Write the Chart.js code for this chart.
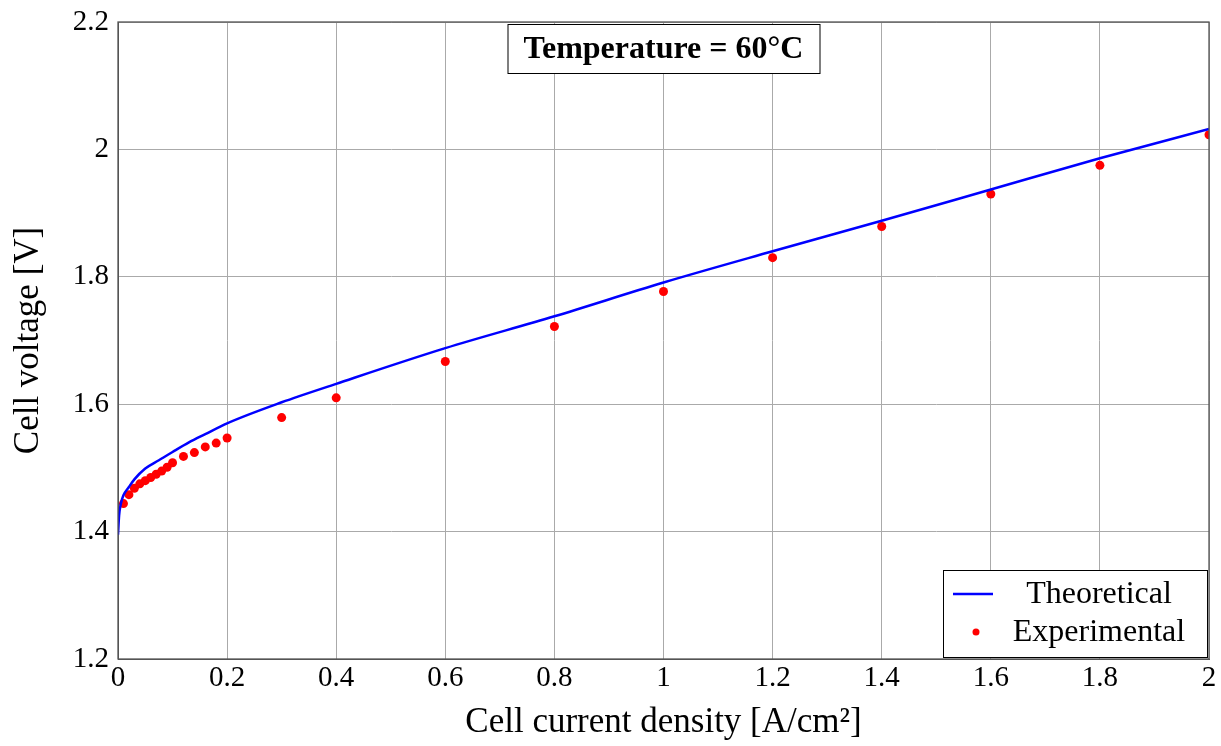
<!DOCTYPE html>
<html>
<head>
<meta charset="utf-8">
<script src="https://cdn.jsdelivr.net/npm/chart.js@4.4.0/dist/chart.umd.min.js"></script>
<style>
  html, body { margin: 0; padding: 0; background: #fff; }
  #wrap { width: 1221px; height: 746px; }
</style>
</head>
<body>
<div id="wrap"><canvas id="polarizacion"></canvas></div>
<script>
// Curva teórica
const theoCurrent = [0, 0.002, 0.005, 0.01, 0.02, 0.03, 0.05, 0.075, 0.1, 0.13, 0.16, 0.2, 0.3, 0.4, 0.6, 0.8, 1.0, 1.2, 1.4, 1.6, 1.8, 2.0];
const theoVoltage = [1.395, 1.425, 1.443, 1.457, 1.470, 1.482, 1.499, 1.512, 1.525, 1.540, 1.553, 1.570, 1.603, 1.632, 1.688, 1.738, 1.791, 1.840, 1.888, 1.937, 1.986, 2.032];

// Puntos experimentales
const expCurrent = [0.01, 0.02, 0.03, 0.04, 0.05, 0.06, 0.07, 0.08, 0.09, 0.1, 0.12, 0.14, 0.16, 0.18, 0.2, 0.3, 0.4, 0.6, 0.8, 1.0, 1.2, 1.4, 1.6, 1.8, 2.0];
const expVoltage = [1.444, 1.458, 1.468, 1.475, 1.480, 1.485, 1.490, 1.495, 1.501, 1.508, 1.518, 1.524, 1.533, 1.539, 1.547, 1.579, 1.610, 1.667, 1.722, 1.777, 1.830, 1.879, 1.930, 1.975, 2.023];

const xTicks = [0, 0.2, 0.4, 0.6, 0.8, 1, 1.2, 1.4, 1.6, 1.8, 2];
const yTicks = [1.2, 1.4, 1.6, 1.8, 2, 2.2];

const FONT = "'Liberation Serif', serif";

// Marco, título y leyenda dentro del área del gráfico
const decoraciones = {
    id: 'decoraciones',
    afterDraw(chart) {
        const ctx = chart.ctx;
        const a = chart.chartArea;
        ctx.save();
        ctx.strokeStyle = '#555';
        ctx.lineWidth = 1.3;
        ctx.strokeRect(a.left, a.top, a.right - a.left, a.bottom - a.top);

        // caja del título
        const cx = (a.left + a.right) / 2;
        const tw = 312, th = 49;
        ctx.fillStyle = '#fff';
        ctx.fillRect(cx - tw / 2, a.top + 2, tw, th);
        ctx.strokeStyle = '#000';
        ctx.lineWidth = 1;
        ctx.strokeRect(cx - tw / 2 + 0.5, a.top + 2.5, tw, th);
        ctx.fillStyle = '#000';
        ctx.font = "bold 32px " + FONT;
        ctx.textAlign = 'center';
        ctx.textBaseline = 'middle';
        ctx.fillText('Temperature = 60°C', cx, a.top + 2 + th / 2 + 1);

        // leyenda
        const lw = 264, lh = 87;
        const lx = a.right - lw - 2, ly = a.bottom - lh - 2;
        ctx.fillStyle = '#fff';
        ctx.fillRect(lx, ly, lw, lh);
        ctx.strokeStyle = '#000';
        ctx.strokeRect(lx + 0.5, ly + 0.5, lw, lh);
        const ds = chart.data.datasets;
        ctx.strokeStyle = ds[0].borderColor;
        ctx.lineWidth = ds[0].borderWidth;
        ctx.beginPath();
        ctx.moveTo(lx + 10, ly + 24);
        ctx.lineTo(lx + 50, ly + 24);
        ctx.stroke();
        ctx.fillStyle = ds[1].backgroundColor;
        ctx.beginPath();
        ctx.arc(lx + 33, ly + 62, 3.5, 0, Math.PI * 2);
        ctx.fill();
        ctx.fillStyle = '#000';
        ctx.font = "32px " + FONT;
        ctx.textAlign = 'center';
        ctx.fillText(ds[0].label, lx + 156, ly + 25);
        ctx.fillText(ds[1].label, lx + 156, ly + 63);
        ctx.restore();
    }
};

const ctxPol = document.getElementById('polarizacion').getContext('2d');
const chartPol = new Chart(ctxPol, {
    type: 'line',
    data: {
        datasets: [
            {
                label: 'Theoretical',
                data: theoCurrent.map((x, i) => ({ x: x, y: theoVoltage[i] })),
                borderColor: '#0000ff',
                backgroundColor: '#0000ff',
                borderWidth: 2.5,
                pointRadius: 0,
                cubicInterpolationMode: 'monotone',
                fill: false
            },
            {
                label: 'Experimental',
                data: expCurrent.map((x, i) => ({ x: x, y: expVoltage[i] })),
                showLine: false,
                borderColor: '#ff0000',
                backgroundColor: '#ff0000',
                pointRadius: 4.5,
                pointBorderWidth: 0
            }
        ]
    },
    options: {
        responsive: true,
        maintainAspectRatio: false,
        animation: false,
        layout: { padding: { top: 22, right: 12, left: 0, bottom: 0 } },
        plugins: {
            legend: { display: false },
            tooltip: { enabled: false }
        },
        scales: {
            x: {
                type: 'linear',
                min: 0,
                max: 2,
                afterBuildTicks: s => { s.ticks = xTicks.map(v => ({ value: v })); },
                afterFit: s => { s.height = 87; },
                ticks: {
                    color: '#000',
                    font: { family: FONT, size: 29 },
                    padding: 2,
                    callback: v => String(v)
                },
                grid: { color: '#aaa', lineWidth: 1, tickLength: 0 },
                border: { color: '#555' },
                title: {
                    display: true,
                    text: 'Cell current density [A/cm²]',
                    color: '#000',
                    font: { family: FONT, size: 35 },
                    padding: { top: 0, bottom: 2 }
                }
            },
            y: {
                type: 'linear',
                min: 1.2,
                max: 2.2,
                afterBuildTicks: s => { s.ticks = yTicks.map(v => ({ value: v })); },
                afterFit: s => { s.width = 118; s.paddingTop = 0; s.paddingBottom = 0; },
                ticks: {
                    color: '#000',
                    font: { family: FONT, size: 29 },
                    padding: 9,
                    callback: v => String(v)
                },
                grid: { color: '#aaa', lineWidth: 1, tickLength: 0 },
                border: { color: '#555' },
                title: {
                    display: true,
                    text: 'Cell voltage [V]',
                    color: '#000',
                    font: { family: FONT, size: 35 },
                    padding: { top: 8, bottom: 4 }
                }
            }
        }
    },
    plugins: [decoraciones]
});
</script>
</body>
</html>
